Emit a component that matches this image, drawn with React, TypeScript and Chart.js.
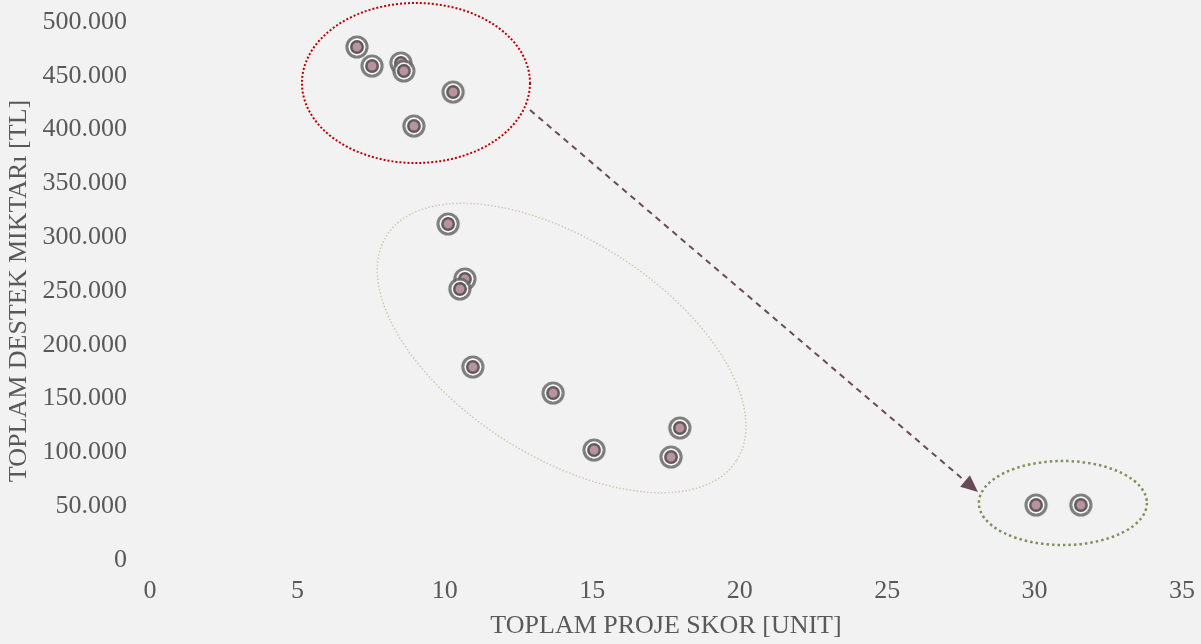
import React, { useEffect, useRef } from "react";
import { Chart, registerables } from "chart.js";

Chart.register(...registerables);

// Data
const projectScores = [7.02, 7.53, 8.51, 8.61, 10.28, 8.95, 10.11, 10.68, 10.51, 10.95, 13.67, 15.06, 17.97, 17.67, 30.05, 31.57];
const supportAmounts = [476800, 459100, 461900, 454500, 434900, 403300, 312300, 261200, 251900, 179400, 155200, 102200, 122700, 95700, 51100, 51100];

const xAxisTitle = "TOPLAM PROJE SKOR [UNIT]";
const yAxisTitle = "TOPLAM DESTEK MIKTARı [TL]";

// Group highlight ellipses (centres in data units)
const ellipseCenterX = [9.02, 13.96, 30.96];
const ellipseCenterY = [443300, 197000, 52970];

// Arrow between groups (data units)
const arrowFrom = [12.89, 418200];
const arrowTo = [28.08, 63200];

const FONT = "'Liberation Serif', 'Times New Roman', serif";
const TEXT = "#595959";

const ellipseStyles = [
  { rx: 114, ry: 80, angle: 0, color: "#c00000", width: 2, dash: [2, 2] },
  { rx: 208, ry: 108, angle: 32.8, color: "#cfc9b4", width: 1.5, dash: [1.5, 2] },
  { rx: 84, ry: 42, angle: 0, color: "#7f9157", width: 2.5, dash: [2.5, 3] },
];

function makeMarker(): HTMLCanvasElement {
  const c = document.createElement("canvas");
  c.width = 26;
  c.height = 26;
  const g = c.getContext("2d")!;
  const cx = 13, cy = 13;
  g.beginPath();
  g.arc(cx, cy, 10, 0, Math.PI * 2);
  g.strokeStyle = "rgba(105,105,105,0.85)";
  g.lineWidth = 3.2;
  g.stroke();
  g.beginPath();
  g.arc(cx, cy, 7.6, 0, Math.PI * 2);
  g.strokeStyle = "rgba(255,255,255,0.9)";
  g.lineWidth = 1.6;
  g.stroke();
  g.beginPath();
  g.arc(cx, cy, 5.7, 0, Math.PI * 2);
  g.fillStyle = "#b9949f";
  g.fill();
  g.strokeStyle = "#5e5a5c";
  g.lineWidth = 2.5;
  g.stroke();
  return c;
}

const annotationPlugin = {
  id: "groupAnnotations",
  beforeDatasetsDraw(chart: any) {
    const { ctx } = chart;
    const xs = chart.scales.x;
    const ys = chart.scales.y;
    ellipseStyles.forEach((e, i) => {
      ctx.save();
      ctx.beginPath();
      ctx.ellipse(
        xs.getPixelForValue(ellipseCenterX[i]),
        ys.getPixelForValue(ellipseCenterY[i]),
        e.rx,
        e.ry,
        (e.angle * Math.PI) / 180,
        0,
        Math.PI * 2
      );
      ctx.setLineDash(e.dash);
      ctx.lineWidth = e.width;
      ctx.strokeStyle = e.color;
      ctx.stroke();
      ctx.restore();
    });
    const x1 = xs.getPixelForValue(arrowFrom[0]);
    const y1 = ys.getPixelForValue(arrowFrom[1]);
    const x2 = xs.getPixelForValue(arrowTo[0]);
    const y2 = ys.getPixelForValue(arrowTo[1]);
    const ang = Math.atan2(y2 - y1, x2 - x1);
    const headLen = 17;
    const headW = 7.5;
    const bx = x2 - headLen * Math.cos(ang);
    const by = y2 - headLen * Math.sin(ang);
    ctx.save();
    ctx.strokeStyle = "#6b4a57";
    ctx.fillStyle = "#6b4a57";
    ctx.lineWidth = 2;
    ctx.setLineDash([6, 5]);
    ctx.beginPath();
    ctx.moveTo(x1, y1);
    ctx.lineTo(bx, by);
    ctx.stroke();
    ctx.setLineDash([]);
    ctx.beginPath();
    ctx.moveTo(x2, y2);
    ctx.lineTo(bx + headW * Math.sin(ang), by - headW * Math.cos(ang));
    ctx.lineTo(bx - headW * Math.sin(ang), by + headW * Math.cos(ang));
    ctx.closePath();
    ctx.fill();
    ctx.restore();
  },
};

function fmt(v: number): string {
  return String(Math.round(v)).replace(/\B(?=(\d{3})+(?!\d))/g, ".");
}

export default function App() {
  const ref = useRef<HTMLCanvasElement>(null);
  useEffect(() => {
    document.body.style.margin = "0";
    const marker = makeMarker();
    const chart = new Chart(ref.current!, {
      type: "scatter",
      data: {
        datasets: [
          {
            data: projectScores.map((x, i) => ({ x, y: supportAmounts[i] })),
            pointStyle: marker as any,
            pointRadius: 12,
            pointHoverRadius: 12,
          },
        ],
      },
      options: {
        animation: false,
        responsive: false,
        maintainAspectRatio: false,
        layout: { padding: { top: 22, right: 19, left: 0, bottom: 0 } },
        plugins: { legend: { display: false }, tooltip: { enabled: false } },
        scales: {
          x: {
            type: "linear",
            min: 0,
            max: 35,
            border: { display: false },
            grid: { display: false, drawTicks: false },
            ticks: {
              stepSize: 5,
              padding: 16,
              color: TEXT,
              font: { family: FONT, size: 26 },
              maxRotation: 0,
            },
            title: {
              display: true,
              text: xAxisTitle,
              color: TEXT,
              font: { family: FONT, size: 26 },
              padding: { top: 0, bottom: 2 },
            },
            afterFit: (s: any) => {
              s.height = 84;
              s.paddingLeft = 0;
              s.paddingRight = 0;
            },
          },
          y: {
            type: "linear",
            min: 0,
            max: 500000,
            border: { display: false },
            grid: { display: false, drawTicks: false },
            ticks: {
              stepSize: 50000,
              padding: 23,
              color: TEXT,
              font: { family: FONT, size: 26 },
              callback: (v: any) => fmt(Number(v)),
            },
            title: {
              display: true,
              text: yAxisTitle,
              color: TEXT,
              font: { family: FONT, size: 26 },
              padding: 4,
            },
            afterFit: (s: any) => {
              s.width = 150;
              s.paddingTop = 0;
              s.paddingBottom = 0;
            },
          },
        },
      },
      plugins: [annotationPlugin],
    });
    return () => chart.destroy();
  }, []);
  return (
    <div style={{ width: 1201, height: 644, background: "#f2f2f2" }}>
      <canvas ref={ref} width={1201} height={644} style={{ display: "block" }} />
    </div>
  );
}
